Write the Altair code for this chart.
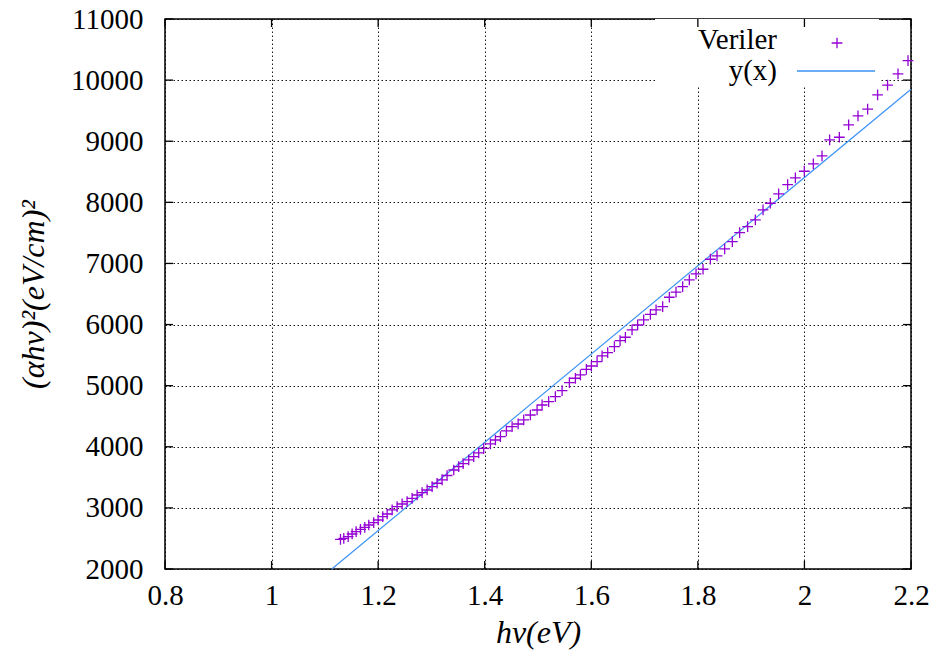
import altair as alt
import pandas as pd

# ---- data ----
hv = [1.1293, 1.1355, 1.1437, 1.1512, 1.1587, 1.1668, 1.1749, 1.1824, 1.1917, 1.2,
      1.2087, 1.2169, 1.2263, 1.2356, 1.245, 1.2544, 1.2638, 1.2732, 1.2825, 1.2919,
      1.3013, 1.3107, 1.32, 1.3294, 1.3419, 1.3512, 1.3595, 1.37, 1.3794, 1.3887,
      1.3981, 1.4107, 1.4201, 1.4295, 1.4407, 1.4514, 1.4627, 1.4732, 1.4857, 1.4983,
      1.5077, 1.52, 1.5326, 1.5452, 1.5589, 1.5702, 1.5796, 1.5908, 1.6002, 1.6109,
      1.6202, 1.6308, 1.6434, 1.654, 1.664, 1.6765, 1.687, 1.6983, 1.7109, 1.7216,
      1.734, 1.7465, 1.759, 1.7715, 1.784, 1.7966, 1.8097, 1.8235, 1.836, 1.8503,
      1.8647, 1.8784, 1.8934, 1.9079, 1.9223, 1.936, 1.9516, 1.9685, 1.983, 1.9998,
      2.0167, 2.033, 2.0473, 2.0655, 2.083, 2.1005, 2.1186, 2.1373, 2.156, 2.1756, 2.1944]
ahv2 = [2486, 2502, 2529, 2573, 2610, 2650, 2682, 2720, 2758, 2802,
        2856, 2900, 2966, 3020, 3064, 3101, 3157, 3211, 3249, 3293,
        3347, 3403, 3457, 3530, 3620, 3675, 3725, 3785, 3840, 3900,
        3975, 4046, 4111, 4165, 4259, 4329, 4373, 4439, 4520, 4602,
        4684, 4738, 4820, 4918, 5049, 5121, 5175, 5268, 5322, 5393,
        5486, 5540, 5638, 5737, 5792, 5912, 5993, 6075, 6168, 6239,
        6293, 6447, 6530, 6620, 6730, 6828, 6905, 7069, 7123, 7237,
        7357, 7504, 7602, 7712, 7876, 7985, 8137, 8290, 8399, 8509,
        8628, 8759, 9021, 9065, 9267, 9414, 9524, 9758, 9917, 10101, 10319]

fit_x = [1.113, 2.2]
fit_y = [2000, 9851]

x_ticks = [0.8, 1.0, 1.2, 1.4, 1.6, 1.8, 2.0, 2.2]
y_ticks = [2000, 3000, 4000, 5000, 6000, 7000, 8000, 9000, 10000, 11000]

legend_labels = ["Veriler", "y(x)"]

# ---- layout / style ----
W, H = 746, 550
FONT = "Liberation Serif"
FS = 29
TFS = 32
PURPLE = "#9400D3"
BLUE = "#3d92f5"
PLUS = "M-1,0L1,0M0,-1L0,1"

points_df = pd.DataFrame({"hv": hv, "y": ahv2})
fit_df = pd.DataFrame({"hv": fit_x, "y": fit_y})
xt_df = pd.DataFrame({"hv": x_ticks})
yt_df = pd.DataFrame({"y": y_ticks})

xscale = alt.Scale(domain=[0.8, 2.2], nice=False, zero=False)
yscale = alt.Scale(domain=[2000, 11000], nice=False, zero=False)

x_axis = alt.Axis(values=x_ticks, format="~g", title="hν(eV)", grid=True,
                  ticks=False, domain=False, labelPadding=12, titlePadding=7,
                  labelFlush=False)
y_axis = alt.Axis(values=y_ticks, format="d", title="(αhν)²(eV/cm)²", grid=True,
                  ticks=False, domain=False, labelPadding=22, titlePadding=20,
                  labelFlush=False)

X = lambda: alt.X("hv:Q", scale=xscale, axis=x_axis)
Y = lambda: alt.Y("y:Q", scale=yscale, axis=y_axis)

points = alt.Chart(points_df).mark_point(
    shape=PLUS, filled=False, stroke=PURPLE, strokeWidth=1.3, size=115, opacity=1
).encode(x=X(), y=Y())

legend_bg = alt.Chart(pd.DataFrame({"a": [0]})).mark_rect(fill="white").encode(
    x=alt.value(490), x2=alt.value(714), y=alt.value(0), y2=alt.value(66))

fit = alt.Chart(fit_df).mark_line(color=BLUE, strokeWidth=1.2).encode(x=X(), y=Y())

tick_style = dict(color="black", strokeWidth=1.3)
xt_bottom = alt.Chart(xt_df).mark_rule(**tick_style).encode(
    x=X(), y=alt.value(H - 8), y2=alt.value(H))
xt_top = alt.Chart(xt_df).mark_rule(**tick_style).encode(
    x=X(), y=alt.value(0), y2=alt.value(8))
yt_left = alt.Chart(yt_df).mark_rule(**tick_style).encode(
    y=Y(), x=alt.value(0), x2=alt.value(8))
yt_right = alt.Chart(yt_df).mark_rule(**tick_style).encode(
    y=Y(), x=alt.value(W - 8), x2=alt.value(W))

leg_text1 = alt.Chart(pd.DataFrame({"t": [legend_labels[0]]})).mark_text(
    font=FONT, fontSize=FS, align="right", baseline="middle", color="black"
).encode(text="t:N", x=alt.value(612), y=alt.value(21))
leg_text2 = alt.Chart(pd.DataFrame({"t": [legend_labels[1]]})).mark_text(
    font=FONT, fontSize=FS, align="right", baseline="middle", color="black"
).encode(text="t:N", x=alt.value(612), y=alt.value(52))
leg_plus = alt.Chart(pd.DataFrame({"a": [0]})).mark_point(
    shape=PLUS, filled=False, stroke=PURPLE, strokeWidth=1.3, size=115, opacity=1
).encode(x=alt.value(672), y=alt.value(24))
leg_line = alt.Chart(pd.DataFrame({"a": [0]})).mark_rule(
    color=BLUE, strokeWidth=1.3
).encode(x=alt.value(632), x2=alt.value(710), y=alt.value(52))

chart = alt.layer(
    legend_bg, fit, points,
    xt_bottom, xt_top, yt_left, yt_right,
    leg_text1, leg_text2, leg_plus, leg_line,
).properties(
    width=W, height=H,
    autosize=alt.AutoSizeParams(type="none"),
    padding={"left": 165, "top": 19, "right": 25, "bottom": 93},
).configure_view(
    stroke="black", strokeWidth=1.5
).configure_axis(
    labelFont=FONT, labelFontSize=FS, labelColor="black",
    titleFont=FONT, titleFontSize=TFS, titleColor="black",
    titleFontStyle="italic", titleFontWeight="normal",
    gridColor="black", gridDash=[1.5, 2.5], gridWidth=1, gridOpacity=0.9,
)

chart.save("out.html", embed_options={"renderer": "svg", "actions": False})
